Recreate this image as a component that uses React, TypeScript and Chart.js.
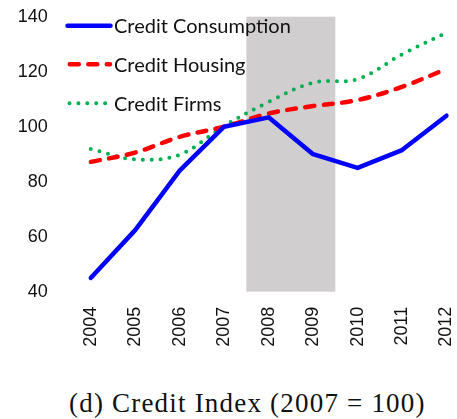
import React, { useEffect, useRef } from 'react';
import { Chart, registerables } from 'chart.js';

Chart.register(...registerables);

const years = ['2004', '2005', '2006', '2007', '2008', '2009', '2010', '2011', '2012'];
const creditConsumption = [45, 62.4, 84, 100, 103.4, 90, 85, 91.5, 104];
const creditHousing = [87.2, 90.6, 96.3, 100, 104.8, 107.5, 109.7, 114.5, 121];
const creditFirms = [91.9, 88.1, 89.8, 100.3, 109, 116, 117.3, 126.3, 134.2];
const yMin = 40;
const yMax = 140;
const yStep = 20;
const crisisRange = [2007.5, 2009.5];
const caption = '(d) Credit Index (2007 = 100)';

const shadePlugin = {
  id: 'crisisShade',
  beforeDatasetsDraw(chart: any) {
    const { ctx, scales } = chart;
    const x = scales.x;
    const y = scales.y;
    const first = Number(years[0]);
    const x0 = x.getPixelForValue(crisisRange[0] - first);
    const x1 = x.getPixelForValue(crisisRange[1] - first);
    const y0 = y.getPixelForValue(yMax);
    const y1 = y.getPixelForValue(yMin);
    ctx.save();
    ctx.fillStyle = '#D0CECE';
    ctx.fillRect(x0, y0, x1 - x0, y1 - y0);
    ctx.restore();
  },
};

const legendPlugin = {
  id: 'lineLegend',
  afterDatasetsDraw(chart: any) {
    const { ctx } = chart;
    const rows = [25.7, 64.3, 103.3];
    chart.data.datasets.forEach((ds: any, i: number) => {
      const yy = rows[i];
      ctx.save();
      ctx.strokeStyle = ds.borderColor;
      ctx.lineWidth = ds.borderWidth;
      ctx.lineCap = ds.borderCapStyle || 'butt';
      ctx.setLineDash(ds.borderDash || []);
      ctx.beginPath();
      if (ds.borderDash && ds.borderDash[0] === 0) {
        ctx.moveTo(69.5, yy);
        ctx.lineTo(110.5, yy);
      } else {
        ctx.moveTo(ds.borderDash ? 69.8 : 67.5, yy);
        ctx.lineTo(ds.borderDash ? 110 : 110.5, yy);
      }
      ctx.stroke();
      ctx.setLineDash([]);
      ctx.fillStyle = '#111';
      ctx.font = '20px Lato';
      ctx.textBaseline = 'middle';
      ctx.textAlign = 'left';
      ctx.fillText(ds.label, 114, yy + 1);
      ctx.restore();
    });
  },
};

export default function App() {
  const ref = useRef<HTMLCanvasElement | null>(null);

  useEffect(() => {
    if (!ref.current) return;
    const chart = new Chart(ref.current, {
      type: 'line',
      data: {
        labels: years,
        datasets: [
          {
            label: 'Credit Consumption',
            data: creditConsumption,
            borderColor: '#0000FF',
            borderWidth: 4.5,
            borderCapStyle: 'round',
            borderJoinStyle: 'round',
            tension: 0,
            pointRadius: 0,
          },
          {
            label: 'Credit Housing',
            data: creditHousing,
            borderColor: '#FF0000',
            borderWidth: 4.5,
            borderDash: [9, 9.5],
            borderCapStyle: 'round',
            tension: 0.35,
            pointRadius: 0,
          },
          {
            label: 'Credit Firms',
            data: creditFirms,
            borderColor: '#00B050',
            borderWidth: 4,
            borderDash: [0, 8.9],
            borderCapStyle: 'round',
            tension: 0.35,
            pointRadius: 0,
          },
        ] as any,
      },
      options: {
        animation: false,
        responsive: false,
        layout: { padding: { top: 16.7, left: 0, right: 10.5, bottom: 0 } },
        plugins: {
          legend: { display: false },
          tooltip: { enabled: false },
        },
        scales: {
          x: {
            offset: false,
            grid: { display: false, drawTicks: false },
            border: { display: false },
            ticks: {
              minRotation: 90,
              maxRotation: 90,
              padding: 15,
              color: '#111',
              font: { family: 'Liberation Sans', size: 18 },
            },
            afterFit(scale: any) {
              scale.height = 78.3;
              scale.paddingLeft = 0;
              scale.paddingRight = 0;
            },
          },
          y: {
            min: yMin,
            max: yMax,
            grid: { display: false, drawTicks: false },
            border: { display: false },
            ticks: {
              stepSize: yStep,
              padding: 43,
              color: '#111',
              font: { family: 'Liberation Sans', size: 18 },
            },
            afterFit(scale: any) {
              scale.width = 90.7;
              scale.paddingTop = 0;
              scale.paddingBottom = 0;
            },
          },
        },
      } as any,
      plugins: [shadePlugin, legendPlugin],
    });
    return () => chart.destroy();
  }, []);

  return (
    <div style={{ position: 'fixed', left: 0, top: 0, width: 457, height: 419, background: '#fff' }}>
      <canvas ref={ref} width={457} height={370} style={{ display: 'block' }} />
      <div
        style={{
          position: 'absolute',
          left: 69,
          top: 387,
          whiteSpace: 'nowrap',
          fontFamily: '"Liberation Serif", serif',
          fontSize: 27,
          letterSpacing: 1.2,
          lineHeight: '32px',
          color: '#111',
        }}
      >
        {caption}
      </div>
    </div>
  );
}
